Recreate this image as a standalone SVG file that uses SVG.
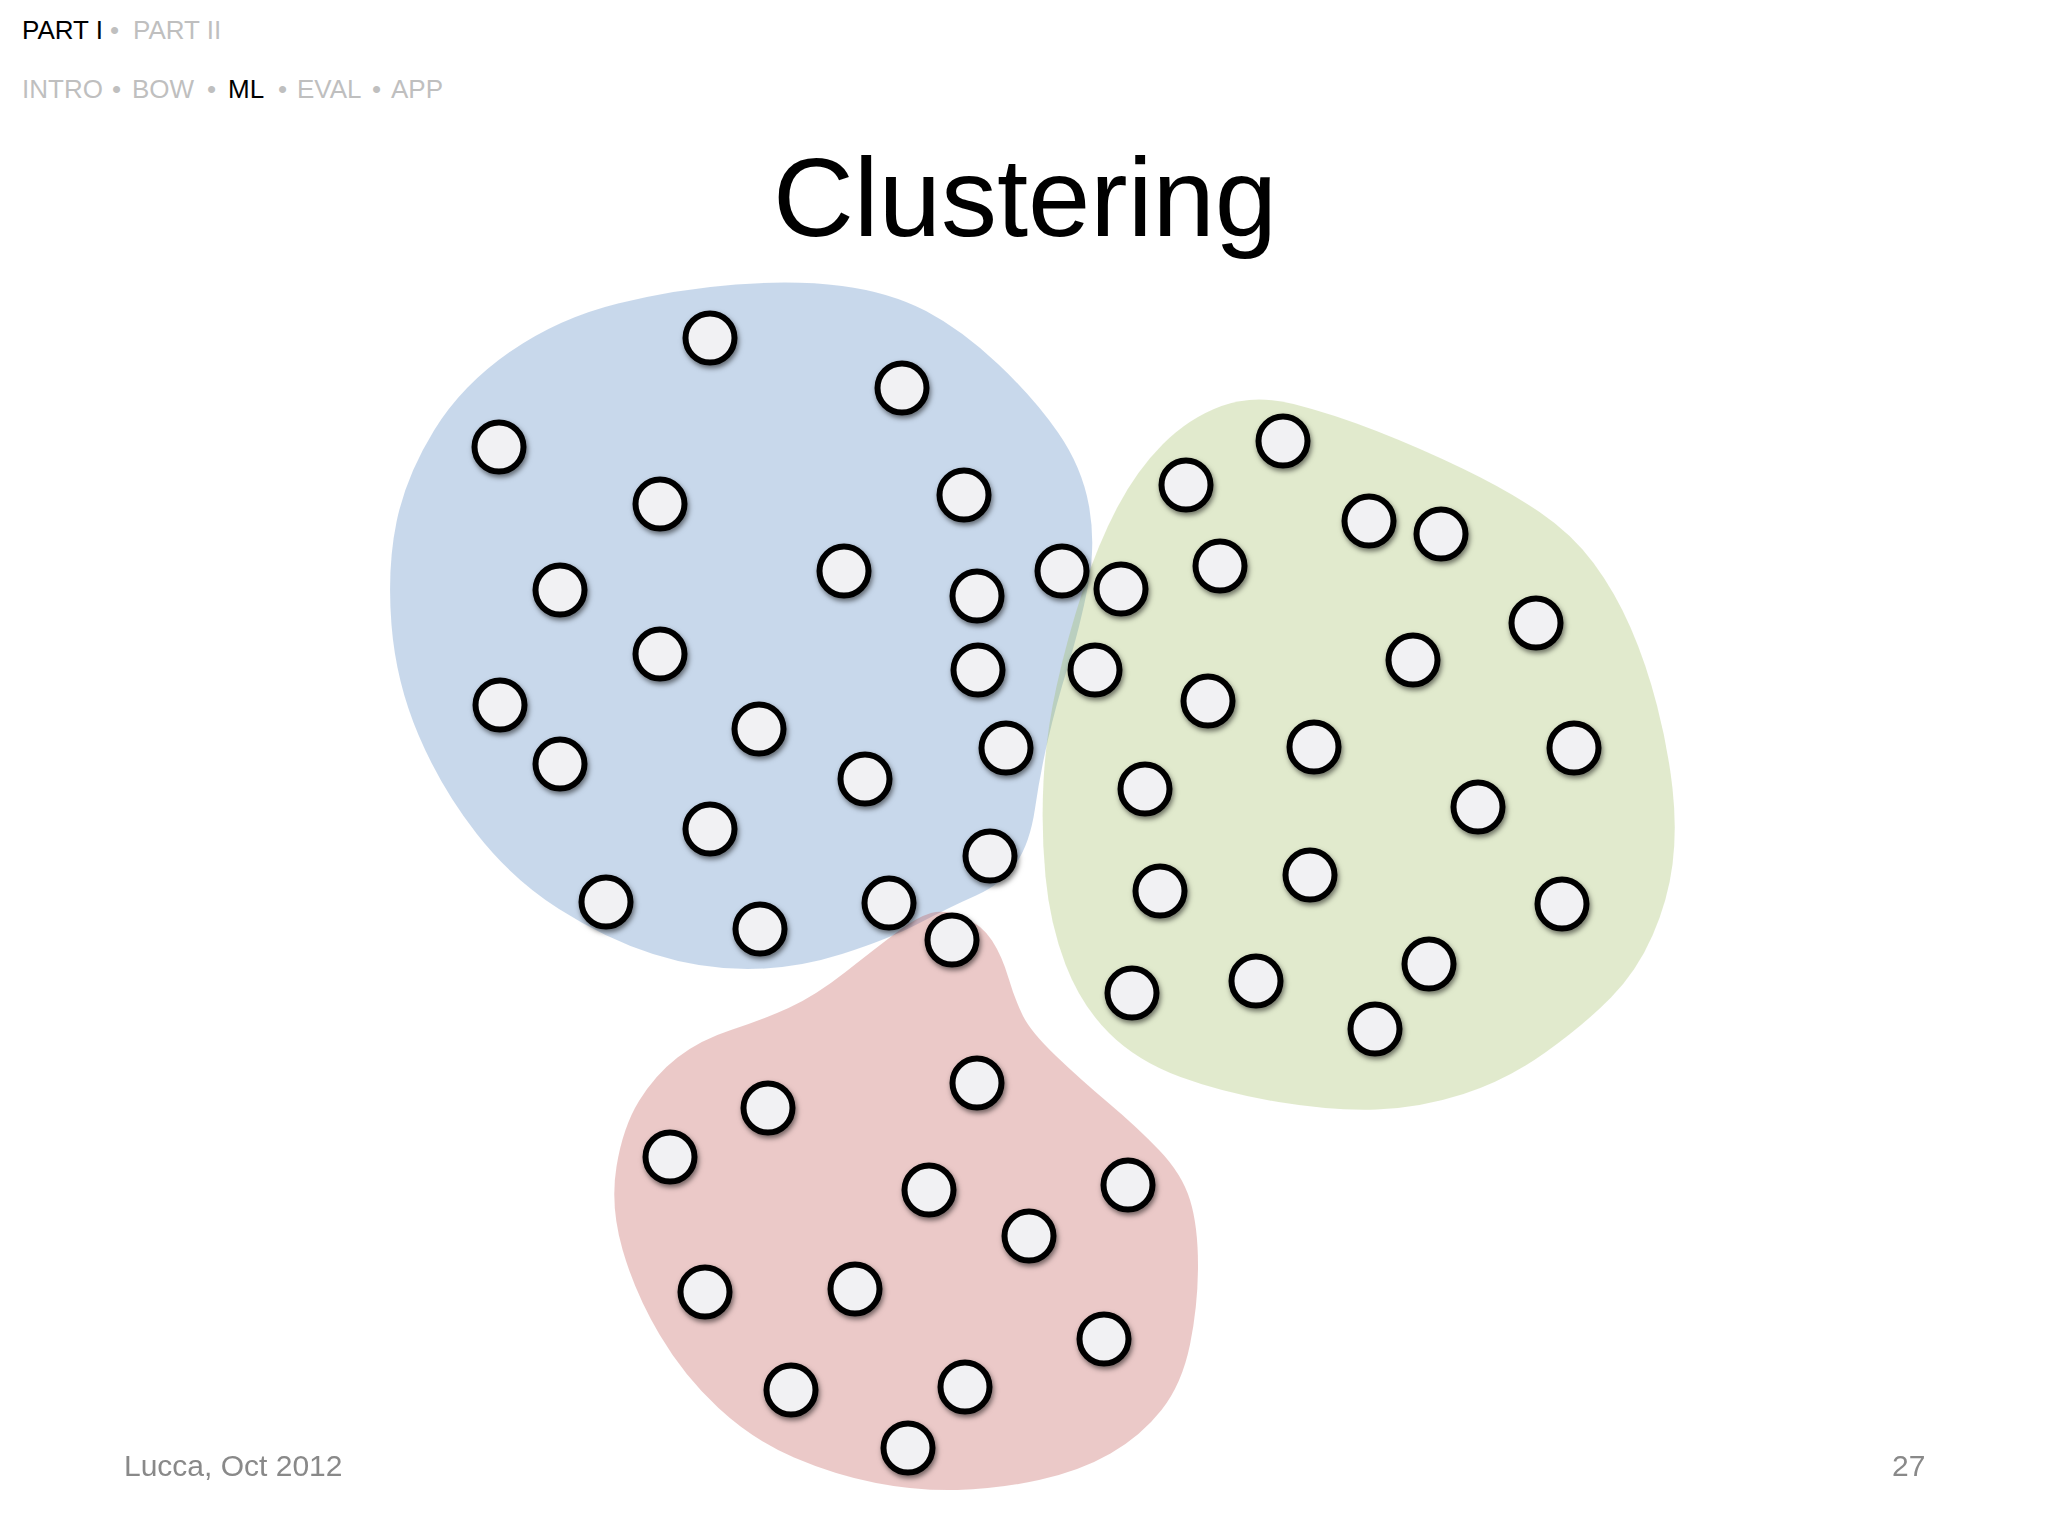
<svg xmlns="http://www.w3.org/2000/svg" width="2048" height="1536" viewBox="0 0 2048 1536">
<defs>
<style>
.hdr{font-family:"Liberation Sans",Arial,sans-serif;font-size:26px;fill:#bfbfbf}
.on{fill:#000}
.title{font-family:"Liberation Sans",Arial,sans-serif;font-size:112px;fill:#000}
.foot{font-family:"Liberation Sans",Arial,sans-serif;font-size:30px;fill:#898989}
.pt{fill:#f1f1f3;stroke:#000;stroke-width:6}
.blue{fill:#4f81bd;fill-opacity:0.31}
.green{fill:#9bbb59;fill-opacity:0.3}
.red{fill:#c0504d;fill-opacity:0.31}
</style>
<filter id="sh" x="-50%" y="-50%" width="200%" height="200%">
<feDropShadow dx="1.5" dy="3" stdDeviation="2.5" flood-color="#000" flood-opacity="0.5"/>
</filter>
<circle id="dot" r="24.5" class="pt"/>
</defs>
<rect width="2048" height="1536" fill="#fff"/>

<g id="header">
<text class="hdr" y="39"><tspan x="22" class="on">PART I</tspan><tspan x="110">•</tspan><tspan x="133">PART II</tspan></text>
<text class="hdr" y="98"><tspan x="22">INTRO</tspan><tspan x="112">•</tspan><tspan x="132">BOW</tspan><tspan x="207">•</tspan><tspan x="228" class="on">ML</tspan><tspan x="278">•</tspan><tspan x="297">EVAL</tspan><tspan x="372">•</tspan><tspan x="391">APP</tspan></text>
</g>

<text id="title" class="title" x="1025" y="236" text-anchor="middle">Clustering</text>

<g id="blobs">
<path id="blob-blue" class="blue" d="M736,284.5 Q795,280 842,286 Q889,292 926,311 Q962,330 998,364 Q1034,398 1058,432.5 Q1082,467 1089,506 Q1096,545 1088,586 Q1080,627 1068,666 Q1056,705 1048,739.5 Q1040,774 1035,808.5 Q1030,843 1016,863.5 Q1002,884 976,895.5 Q950,907 919.5,923 Q889,939 842,954 Q795,969 747.5,969 Q700,969 653,954 Q606,939 559,909 Q512,879 476.5,833.5 Q441,788 418.5,735 Q396,682 391.5,625 Q387,568 396.5,522 Q406,476 434,430.5 Q462,385 510.5,351.5 Q559,318 618,303.5 Q677,289 736,284.5 Z"/>
<path id="blob-green" class="green" d="M1221.5,406 Q1254,394 1293.5,404 Q1333,414 1376.5,431 Q1420,448 1463.5,469 Q1507,490 1539.5,512 Q1572,534 1593.5,563 Q1615,592 1630.5,627.5 Q1646,663 1657,705.5 Q1668,748 1672.5,788.5 Q1677,829 1672.5,864.5 Q1668,900 1652.5,935.5 Q1637,971 1611,997.5 Q1585,1024 1546,1052 Q1507,1080 1463.5,1094 Q1420,1108 1376.5,1109.5 Q1333,1111 1278.5,1102 Q1224,1093 1180.5,1077 Q1137,1061 1109,1033 Q1081,1005 1065.5,964.5 Q1050,924 1045.5,876.5 Q1041,829 1043.5,781.5 Q1046,734 1056.5,686.5 Q1067,639 1082.5,591.5 Q1098,544 1117.5,507 Q1137,470 1163,444 Q1189,418 1221.5,406 Z"/>
<path id="blob-red" class="red" d="M931,913 Q945,909 963.5,917 Q982,925 992,940.5 Q1002,956 1008.5,978 Q1015,1000 1023,1016 Q1031,1032 1055.5,1055.5 Q1080,1079 1108.5,1103 Q1137,1127 1159.5,1150.5 Q1182,1174 1190,1200 Q1198,1226 1198,1265.5 Q1198,1305 1190,1344.5 Q1182,1384 1161.5,1410 Q1141,1436 1110.5,1453.5 Q1080,1471 1039,1480 Q998,1489 957.5,1490 Q917,1491 876,1483 Q835,1475 794,1457.5 Q753,1440 718.5,1408 Q684,1376 659.5,1334.5 Q635,1293 622.5,1249.5 Q610,1206 616.5,1166.5 Q623,1127 639,1101 Q655,1075 677.5,1057.5 Q700,1040 731,1030 Q762,1020 788.5,1008 Q815,996 845.5,972 Q876,948 896.5,932.5 Q917,917 931,913 Z"/>
</g>

<g id="points-blue" filter="url(#sh)">
<use href="#dot" x="710" y="338"/>
<use href="#dot" x="902" y="388"/>
<use href="#dot" x="499" y="447"/>
<use href="#dot" x="660" y="504"/>
<use href="#dot" x="964" y="495"/>
<use href="#dot" x="844" y="571"/>
<use href="#dot" x="560" y="590"/>
<use href="#dot" x="977" y="596"/>
<use href="#dot" x="1062" y="571"/>
<use href="#dot" x="660" y="654"/>
<use href="#dot" x="978" y="670"/>
<use href="#dot" x="500" y="705"/>
<use href="#dot" x="759" y="729"/>
<use href="#dot" x="560" y="764"/>
<use href="#dot" x="865" y="779"/>
<use href="#dot" x="1006" y="748"/>
<use href="#dot" x="710" y="829"/>
<use href="#dot" x="990" y="856"/>
<use href="#dot" x="606" y="902"/>
<use href="#dot" x="760" y="929"/>
<use href="#dot" x="889" y="903"/>
</g>

<g id="points-green" filter="url(#sh)">
<use href="#dot" x="1283" y="441"/>
<use href="#dot" x="1186" y="485"/>
<use href="#dot" x="1369" y="521"/>
<use href="#dot" x="1441" y="534"/>
<use href="#dot" x="1220" y="566"/>
<use href="#dot" x="1121" y="589"/>
<use href="#dot" x="1536" y="623"/>
<use href="#dot" x="1413" y="660"/>
<use href="#dot" x="1095" y="670"/>
<use href="#dot" x="1208" y="701"/>
<use href="#dot" x="1314" y="747"/>
<use href="#dot" x="1574" y="748"/>
<use href="#dot" x="1145" y="789"/>
<use href="#dot" x="1478" y="807"/>
<use href="#dot" x="1160" y="891"/>
<use href="#dot" x="1310" y="875"/>
<use href="#dot" x="1562" y="904"/>
<use href="#dot" x="1132" y="993"/>
<use href="#dot" x="1256" y="981"/>
<use href="#dot" x="1429" y="964"/>
<use href="#dot" x="1375" y="1029"/>
</g>

<g id="points-red" filter="url(#sh)">
<use href="#dot" x="952" y="940"/>
<use href="#dot" x="977" y="1083"/>
<use href="#dot" x="768" y="1108"/>
<use href="#dot" x="670" y="1157"/>
<use href="#dot" x="929" y="1190"/>
<use href="#dot" x="1128" y="1185"/>
<use href="#dot" x="1029" y="1236"/>
<use href="#dot" x="705" y="1292"/>
<use href="#dot" x="855" y="1289"/>
<use href="#dot" x="1104" y="1339"/>
<use href="#dot" x="791" y="1390"/>
<use href="#dot" x="965" y="1387"/>
<use href="#dot" x="908" y="1448"/>
</g>

<g id="footer">
<text class="foot" x="124" y="1476">Lucca, Oct 2012</text>
<text class="foot" x="1892" y="1476">27</text>
</g>
</svg>
